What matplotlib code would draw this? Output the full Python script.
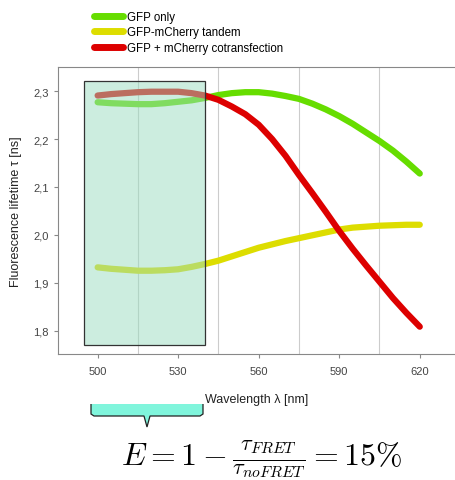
import matplotlib.pyplot as plt
from matplotlib.patches import Rectangle
from matplotlib.path import Path
from matplotlib.patches import PathPatch

plt.rcParams['font.family'] = ['Liberation Sans', 'DejaVu Sans']
plt.rcParams['mathtext.fontset'] = 'cm'

wavelength = [500, 505, 510, 515, 520, 525, 530, 535, 540, 545, 550, 555, 560,
              565, 570, 575, 580, 585, 590, 595, 600, 605, 610, 615, 620]
gfp_only = [2.277, 2.275, 2.274, 2.273, 2.273, 2.275, 2.278, 2.281, 2.286, 2.292, 2.296, 2.298, 2.298,
            2.295, 2.290, 2.284, 2.274, 2.262, 2.248, 2.232, 2.214, 2.196, 2.176, 2.153, 2.128]
tandem = [1.932, 1.929, 1.927, 1.925, 1.925, 1.926, 1.928, 1.933, 1.939, 1.946, 1.955, 1.964, 1.973,
          1.980, 1.987, 1.993, 1.999, 2.005, 2.011, 2.015, 2.017, 2.019, 2.020, 2.021, 2.021]
cotrans = [2.291, 2.294, 2.296, 2.298, 2.299, 2.299, 2.299, 2.296, 2.291, 2.282, 2.268, 2.252, 2.230,
           2.200, 2.165, 2.125, 2.087, 2.048, 2.008, 1.971, 1.936, 1.902, 1.868, 1.837, 1.808]
labels = ['GFP only', 'GFP-mCherry tandem', 'GFP + mCherry cotransfection']
colors = ['#66dd00', '#dddd00', '#dd0000']
yticks = [1.8, 1.9, 2.0, 2.1, 2.2, 2.3]
xticks = [500, 530, 560, 590, 620]
grid_x = [515, 545, 575, 605]
window = (495, 540)

fig = plt.figure(figsize=(4.56, 4.81), dpi=100)
ax = fig.add_axes([0.127, 0.262, 0.873, 0.597])

for x in grid_x:
    ax.axvline(x, color='#cccccc', lw=0.8, zorder=0)

handles = []
for ys, c, lab in zip([gfp_only, tandem, cotrans], colors, labels):
    h, = ax.plot(wavelength, ys, color=c, lw=4.5, solid_capstyle='round',
                 solid_joinstyle='round', label=lab, zorder=2)
    handles.append(h)

ax.add_patch(Rectangle((window[0], 1.770), window[1] - window[0], 2.322 - 1.770,
                       facecolor='#9adcc0', alpha=0.5, edgecolor='none', zorder=3))
ax.add_patch(Rectangle((window[0], 1.770), window[1] - window[0], 2.322 - 1.770,
                       facecolor='none', edgecolor='#333333', lw=0.9, zorder=4))

ax.set_xlim(485.2, 633.5)
ax.set_ylim(1.751, 2.351)
ax.set_xticks(xticks)
ax.set_yticks(yticks)
ax.set_yticklabels([('%.1f' % v).replace('.', ',') for v in yticks])
ax.tick_params(colors='#888888', labelcolor='#444444', labelsize=8, length=3)
ax.tick_params(axis='x', pad=6)
for s in ['left', 'bottom', 'top']:
    ax.spines[s].set_color('#888888')
ax.spines['right'].set_visible(False)

ax.set_xlabel('Wavelength λ [nm]', fontsize=9, color='#222222', labelpad=12)
ax.set_ylabel('Fluorescence lifetime τ [ns]', fontsize=9, color='#222222', labelpad=8)

leg = fig.legend(handles=handles, loc='upper left', bbox_to_anchor=(0.206, 0.975),
                 frameon=False, fontsize=8.3, handlelength=2.5, handletextpad=0.4,
                 labelspacing=0.3, borderpad=0, borderaxespad=0)
for lh in leg.get_lines():
    lh.set_linewidth(5)

# brace under the window, drawn in figure pixels
W, H = 456, 481
x0, x1, xm = 91, 203, 147
yt, yb, ytip = 405, 417, 428
verts = [(x0, yt), (x0, yb - 2), (x0 + 3, yb), (xm - 3, yb), (xm, ytip),
         (xm + 3, yb), (x1 - 3, yb), (x1, yb - 2), (x1, yt)]
codes = [Path.MOVETO] + [Path.LINETO] * (len(verts) - 1)
path = Path([(vx / W, 1 - vy / H) for vx, vy in verts], codes)
fig.patches.append(PathPatch(path, facecolor='#80f5dc', edgecolor='#222222', lw=0.9,
                             transform=fig.transFigure, figure=fig))

fig.text(0.574, 0.046, r'$E = 1 - \frac{\tau_{FRET}}{\tau_{noFRET}} = 15\%$',
         fontsize=23, ha='center', va='center')

fig.savefig('out.png', dpi=100)
